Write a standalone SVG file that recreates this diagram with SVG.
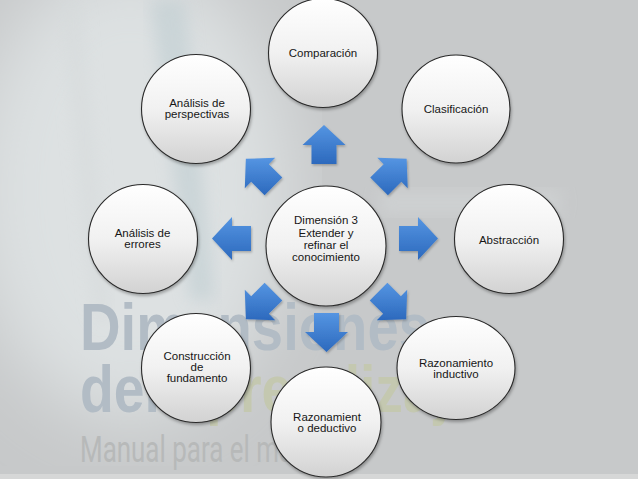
<svg xmlns="http://www.w3.org/2000/svg" width="638" height="479" viewBox="0 0 638 479">
<defs>
<linearGradient id="circ" x1="0" y1="0" x2="0" y2="1">
<stop offset="0" stop-color="#ffffff"/>
<stop offset="0.5" stop-color="#f1f1f1"/>
<stop offset="1" stop-color="#d2d2d2"/>
</linearGradient>
<linearGradient id="arr" x1="0" y1="0" x2="0" y2="1">
<stop offset="0" stop-color="#5595e2"/>
<stop offset="1" stop-color="#2c69bd"/>
</linearGradient>
<filter id="sh" x="-20%" y="-20%" width="140%" height="140%">
<feDropShadow dx="1" dy="2" stdDeviation="1.5" flood-color="#000" flood-opacity="0.3"/>
</filter>
<filter id="ash" x="-20%" y="-20%" width="140%" height="140%">
<feDropShadow dx="1" dy="1.5" stdDeviation="1" flood-color="#000" flood-opacity="0.25"/>
</filter>
<filter id="blur40"><feGaussianBlur stdDeviation="35"/></filter>
<filter id="blur8"><feGaussianBlur stdDeviation="8"/></filter>
<style>
.node{fill:url(#circ);stroke:#2a2a2a;stroke-width:1.1;filter:url(#sh)}
.lbl{font-family:"Liberation Sans",Arial,sans-serif;font-size:11.5px;fill:#161616;text-anchor:middle}
.arrow{fill:url(#arr);filter:url(#ash)}
.bgt{font-family:"Liberation Sans",Arial,sans-serif;font-weight:bold;font-size:66px}
</style>
</defs>

<!-- background -->
<rect x="0" y="0" width="638" height="479" fill="#c7c9ca"/>
<ellipse cx="130" cy="190" rx="160" ry="230" fill="#dde1e2" filter="url(#blur40)"/>
<path d="M150,0 L185,0 L215,300 L190,300 Z" fill="#bfcdd1" opacity="0.6" filter="url(#blur8)"/>
<path d="M60,0 L80,0 L110,320 L95,320 Z" fill="#d6dadb" opacity="0.6" filter="url(#blur8)"/>
<path d="M380,190 L560,190 L560,215 L380,215 Z" fill="#d3d6d7" opacity="0.6" filter="url(#blur8)"/>
<text class="bgt" x="80" y="350" fill="#b2bcc5" textLength="350" lengthAdjust="spacingAndGlyphs">Dimensiones</text>
<text class="bgt" x="80" y="412" textLength="400" lengthAdjust="spacingAndGlyphs"><tspan fill="#b2bcc5">del </tspan><tspan fill="#c4c8b0">aprendizaje</tspan></text>
<text x="80" y="462" font-family="Roboto,'Liberation Sans',sans-serif" font-size="36" fill="#b7b9b9" textLength="272" lengthAdjust="spacingAndGlyphs">Manual para el maestro</text>
<rect x="0" y="474" width="638" height="5" fill="#d6d7d7"/>

<!-- connectors -->
<g id="connectors">
<path class="arrow" d="M311.5,164 L311.5,145 L302.5,145 L324,125 L345.5,145 L336.5,145 L336.5,164 Z"/>
<path class="arrow" d="M370.23,177.6 L383.66,164.16 L377.3,157.8 L406.64,158.86 L407.7,188.2 L401.34,181.84 L387.9,195.27 Z"/>
<path class="arrow" d="M399,226 L418,226 L418,217 L438,238.5 L418,260 L418,251 L399,251 Z"/>
<path class="arrow" d="M369.73,300.4 L383.16,313.84 L376.8,320.2 L406.14,319.14 L407.2,289.8 L400.84,296.16 L387.4,282.73 Z"/>
<path class="arrow" d="M339,313 L339,332 L348,332 L326.5,352 L305,332 L314,332 L314,313 Z"/>
<path class="arrow" d="M282.27,300.4 L268.84,313.84 L275.2,320.2 L245.86,319.14 L244.8,289.8 L251.16,296.16 L264.6,282.73 Z"/>
<path class="arrow" d="M251,251 L232,251 L232,260 L212,238.5 L232,217 L232,226 L251,226 Z"/>
<path class="arrow" d="M282.27,177.6 L268.84,164.16 L275.2,157.8 L245.86,158.86 L244.8,188.2 L251.16,181.84 L264.6,195.27 Z"/>
</g>

<g id="center">
<circle class="node" cx="326" cy="246" r="60"/>
<text class="lbl" x="326" y="224">Dimensión 3</text>
<text class="lbl" x="326" y="237">Extender y</text>
<text class="lbl" x="326" y="249">refinar el</text>
<text class="lbl" x="326" y="261">conocimiento</text>
</g>

<g id="comparacion">
<circle class="node" cx="323" cy="53" r="54.5"/>
<text class="lbl" x="323" y="57">Comparación</text>
</g>

<g id="clasificacion">
<circle class="node" cx="456" cy="109" r="54"/>
<text class="lbl" x="456" y="113">Clasificación</text>
</g>

<g id="abstraccion">
<circle class="node" cx="509" cy="239" r="54.5"/>
<text class="lbl" x="509" y="244">Abstracción</text>
</g>

<g id="inductivo">
<ellipse class="node" cx="456" cy="368" rx="59" ry="51.5"/>
<text class="lbl" x="456" y="367">Razonamiento</text>
<text class="lbl" x="456" y="378">inductivo</text>
</g>

<g id="deductivo">
<circle class="node" cx="326" cy="422" r="55"/>
<text class="lbl" x="327" y="421">Razonamient</text>
<text class="lbl" x="327" y="432">o deductivo</text>
</g>

<g id="construccion">
<circle class="node" cx="196" cy="368" r="54.5"/>
<text class="lbl" x="197" y="360">Construcción</text>
<text class="lbl" x="197" y="371">de</text>
<text class="lbl" x="197" y="382">fundamento</text>
</g>

<g id="errores">
<circle class="node" cx="143" cy="239" r="54.5"/>
<text class="lbl" x="142.5" y="237">Análisis de</text>
<text class="lbl" x="142.5" y="248">errores</text>
</g>

<g id="perspectivas">
<circle class="node" cx="196" cy="109" r="54.5"/>
<text class="lbl" x="197" y="107">Análisis de</text>
<text class="lbl" x="197" y="118">perspectivas</text>
</g>
</svg>
